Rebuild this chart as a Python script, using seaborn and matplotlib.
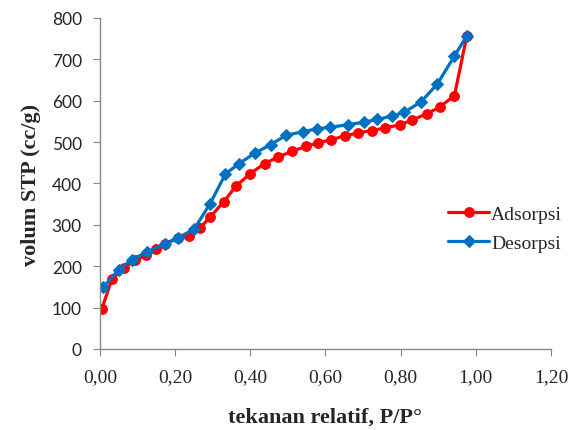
import matplotlib
matplotlib.use("Agg")
import matplotlib.pyplot as plt
import seaborn as sns
import pandas as pd
from matplotlib.ticker import FuncFormatter, MultipleLocator

# data
ads_x = [0.005, 0.032, 0.063, 0.092, 0.122, 0.149, 0.173, 0.208, 0.236, 0.266,
         0.293, 0.329, 0.361, 0.400, 0.438, 0.474, 0.512, 0.549, 0.580, 0.616,
         0.651, 0.687, 0.723, 0.758, 0.798, 0.830, 0.871, 0.904, 0.943, 0.976]
ads_y = [97, 169, 195, 214, 226, 242, 254, 268, 274, 292,
         319, 355, 393, 424, 448, 464, 478, 490, 498, 506,
         515, 522, 528, 534, 542, 553, 569, 585, 612, 757]

des_x = [0.009, 0.050, 0.086, 0.124, 0.173, 0.209, 0.251, 0.293, 0.334, 0.370,
         0.413, 0.455, 0.494, 0.539, 0.577, 0.613, 0.660, 0.702, 0.738, 0.778,
         0.810, 0.855, 0.898, 0.943, 0.976]
des_y = [149, 192, 216, 234, 254, 269, 290, 351, 423, 448,
         474, 494, 516, 525, 532, 536, 542, 548, 555, 563,
         572, 598, 641, 708, 757]

sns.set_style("white")
plt.rcParams['font.family'] = ['Liberation Serif', 'DejaVu Serif']

fig = plt.figure(figsize=(5.71, 4.31), dpi=100)
ax = fig.add_axes([0.175, 0.188, 0.79, 0.768])

df_ads = pd.DataFrame({"x": ads_x, "y": ads_y})
df_des = pd.DataFrame({"x": des_x, "y": des_y})

sns.lineplot(data=df_ads, x="x", y="y", ax=ax, color="#FF0000", lw=2.3,
             marker="o", markersize=7, markeredgecolor="#FF0000", label="Adsorpsi")
sns.lineplot(data=df_des, x="x", y="y", ax=ax, color="#0070C0", lw=2.3,
             marker="D", markersize=6, markeredgecolor="#0070C0", label="Desorpsi")

ax.set_xlim(0, 1.2)
ax.set_ylim(0, 800)
ax.xaxis.set_major_locator(MultipleLocator(0.2))
ax.yaxis.set_major_locator(MultipleLocator(100))
ax.xaxis.set_major_formatter(FuncFormatter(lambda v, p: f"{v:.2f}".replace(".", ",")))

for s in ["top", "right"]:
    ax.spines[s].set_visible(False)
for s in ["left", "bottom"]:
    ax.spines[s].set_color("#888888")
    ax.spines[s].set_linewidth(1.0)
ax.tick_params(axis="both", direction="out", length=5, color="#888888",
               left=True, bottom=True)
ax.tick_params(axis="x", labelsize=14, pad=9)
ax.tick_params(axis="y", labelsize=12.5, pad=8)
for lab in ax.get_yticklabels():
    lab.set_fontfamily(["Lato", "DejaVu Sans"])

ax.set_xlabel("tekanan relatif, P/P°", fontsize=16, fontweight="bold", labelpad=15)
ax.set_ylabel("volum STP (cc/g)", fontsize=16, fontweight="bold", labelpad=8)

ax.legend(loc="center left", bbox_to_anchor=(0.755, 0.363), borderaxespad=0,
          frameon=False, fontsize=14, handlelength=2.1, handletextpad=0.1,
          labelspacing=0.6)

fig.savefig("out.png", dpi=100)
